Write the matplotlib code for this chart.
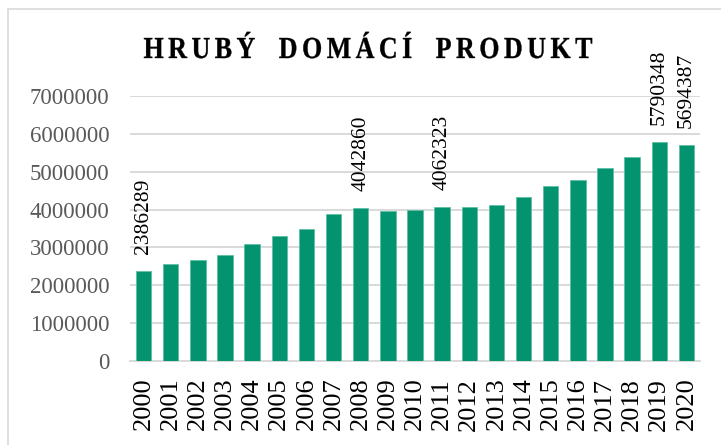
import numpy as np
import matplotlib
matplotlib.use('Agg')
import matplotlib.pyplot as plt
from matplotlib.patches import Rectangle
from matplotlib.patheffects import AbstractPathEffect
from matplotlib.transforms import Affine2D

# Data
roky = [str(r) for r in range(2000, 2021)]
hdp = [2386289, 2565000, 2670000, 2800000, 3080000, 3290000, 3500000,
       3870000, 4042860, 3950000, 3980000, 4062323, 4080000, 4130000,
       4340000, 4610000, 4780000, 5100000, 5400000, 5790348, 5694387]
popisky = ['2000', '2008', '2011', '2019', '2020']
nadpis = 'HRUBÝ DOMÁCÍ PRODUKT'


class Zuzit(AbstractPathEffect):
    # vodorovne zuzeni pismene kolem jeho leveho okraje (pismo v nadpisu je uzke)
    def __init__(self, x0, sx, tah=0.25):
        super().__init__()
        self.x0 = x0
        self.sx = sx
        self.tah = tah

    def draw_path(self, renderer, gc, tpath, affine, rgbFace=None):
        t = affine + Affine2D().translate(-self.x0, 0).scale(self.sx, 1).translate(self.x0, 0)
        gc0 = renderer.new_gc()
        gc0.copy_properties(gc)
        gc0.set_linewidth(self.tah)
        gc0.set_foreground(rgbFace)
        renderer.draw_path(gc0, tpath, t, rgbFace)
        gc0.restore()


plt.rcParams['font.family'] = ['Liberation Serif', 'DejaVu Serif']

W, H = 721, 445
fig = plt.figure(figsize=(W/100, H/100), dpi=100)
ax = fig.add_axes([130/W, 1 - 361/H, 570/W, 265/H])

x = np.arange(len(roky))
ax.bar(x, hdp, width=0.57, color='#03946f', edgecolor='#5fbfa3', linewidth=0.6, zorder=3)

# popisky dat
for i, (r, v) in enumerate(zip(roky, hdp)):
    if r in popisky:
        ax.annotate(str(v), (i, v), xytext=(0, 17), textcoords='offset pixels',
                    rotation=90, ha='center', va='bottom', fontsize=15.5, color='black')

ax.set_xlim(-0.5, len(roky) - 0.5)
ax.set_ylim(0, 7000000)
ax.set_yticks(np.arange(0, 7000001, 1000000))
ax.set_yticklabels([str(v) for v in range(0, 7000001, 1000000)])
ax.set_xticks(x)
ax.set_xticklabels(roky, rotation=90)

ax.grid(axis='y', color='#d9d9d9', linewidth=1.4, zorder=0)
for s in ['top', 'right', 'left']:
    ax.spines[s].set_visible(False)
ax.spines['bottom'].set_color('#d9d9d9')
ax.spines['bottom'].set_linewidth(1.4)
ax.tick_params(axis='y', length=0, pad=15, labelsize=16.5, labelcolor='#595959')
ax.tick_params(axis='x', length=0, pad=12, labelsize=19, labelcolor='black')

# nadpis: uzke pismo s prostrkanim, pismena kladena jedno po druhem
sx, prostrk, mezera = 0.85, 4.5, 19
rend = fig.canvas.get_renderer()
styl = dict(fontsize=22, fontweight='bold', color='black', family='Liberation Serif',
            ha='left', va='baseline')
sirky = []
for ch in nadpis:
    if ch == ' ':
        sirky.append(None)
        continue
    tmp = fig.text(0, 0, ch, **styl)
    sirky.append(tmp.get_window_extent(rend).width * sx)
    tmp.remove()
celkem = sum(w + prostrk for w in sirky if w is not None) - prostrk + mezera * nadpis.count(' ')
xp = 368 - celkem / 2
for ch, w in zip(nadpis, sirky):
    if w is None:
        xp += mezera
        continue
    fig.text(xp / W, 1 - 58 / H, ch, path_effects=[Zuzit(xp, sx)], **styl)
    xp += w + prostrk

# ramecek
fig.patches.append(Rectangle((8/W, -0.1), 1.1, 1 - 9/H + 0.1, transform=fig.transFigure,
                             fill=False, edgecolor='#d9d9d9', linewidth=1.2))

fig.savefig('out.png', dpi=100)
